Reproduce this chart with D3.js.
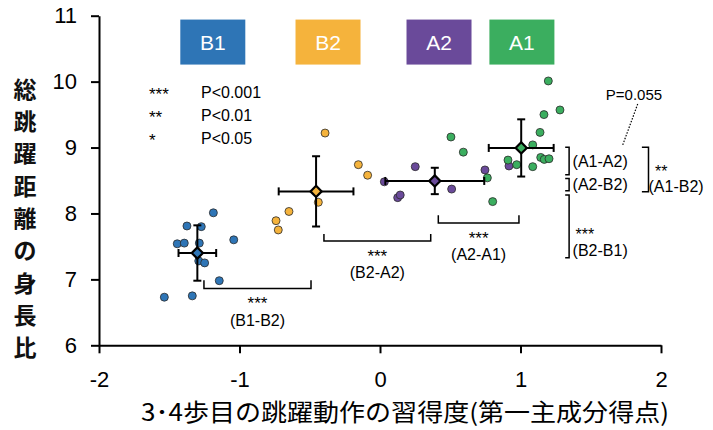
<!DOCTYPE html>
<html>
<head>
<meta charset="utf-8">
<script src="https://cdn.jsdelivr.net/npm/d3@7"></script>
<style>
  body { margin: 0; background: #fff; }
  text { font-family: "Liberation Sans", Arial, sans-serif; }
  .jp { font-family: "Noto Sans CJK JP", sans-serif; }
</style>
</head>
<body>
<div id="chart"></div>
<script>
// groups
let groups = ["B1", "B2", "A2", "A1"];
let colors = ["#2E75B6", "#F5B33C", "#6A4A9A", "#3BAE5F"];

// individual points (x = 習得度, y = 身長比)
let b1X = [-1.186, -1.374, -1.272, -1.443, -1.393, -1.286, -1.041, -1.290, -1.248, -1.144, -1.535, -1.336];
let b1Y = [8.01, 7.81, 7.80, 7.54, 7.55, 7.55, 7.60, 7.28, 7.25, 6.98, 6.73, 6.75];
let b2X = [-0.391, -0.154, -0.088, -0.439, -0.648, -0.740, -0.724];
let b2Y = [9.22, 8.74, 8.58, 8.17, 8.03, 7.89, 7.75];
let a2X = [0.251, 0.031, 0.126, 0.144, 0.510, 0.747, 0.918];
let a2Y = [8.71, 8.48, 8.24, 8.28, 8.37, 8.66, 8.72];
let a1X = [1.198, 1.281, 1.167, 1.139, 1.087, 0.505, 0.593, 0.911, 0.973, 1.087, 1.144, 1.169, 1.203, 0.764, 0.802];
let a1Y = [10.01, 9.57, 9.50, 9.23, 9.04, 9.16, 8.93, 8.81, 8.74, 8.71, 8.85, 8.82, 8.83, 8.54, 8.18];

// group means and SD
let meanX = [-1.300, -0.455, 0.390, 1.005];
let meanY = [7.40, 8.335, 8.493, 8.994];
let sdX = [0.134, 0.266, 0.352, 0.231];
let sdY = [0.42, 0.533, 0.20, 0.434];

// label box centres
let labelX = [-1.19, -0.37, 0.42, 1.01];
let labelY = 10.6;

let xTicks = [-2, -1, 0, 1, 2];
let yTicks = [6, 7, 8, 9, 10, 11];

// significance brackets under the groups
let hBrackets = [
  {x0: -1.253, x1: -0.491, y: 6.863, top: 6.985, stars: "***", label: "(B1-B2)"},
  {x0: -0.399, x1: 0.361, y: 7.583, top: 7.69, stars: "***", label: "(B2-A2)"},
  {x0: 0.415, x1: 0.989, y: 7.857, top: 7.971, stars: "***", label: "(A2-A1)"}
];
// brackets on the right (y ranges)
let vBrackets = [
  {x: 1.346, tip: 1.318, y0: 9.003, y1: 8.588, stars: "", label: "(A1-A2)"},
  {x: 1.346, tip: 1.318, y0: 8.531, y1: 8.344, stars: "", label: "(A2-B2)"},
  {x: 1.346, tip: 1.318, y0: 8.279, y1: 7.329, stars: "***", label: "(B2-B1)"},
  {x: 1.911, tip: 1.864, y0: 9.003, y1: 8.329, stars: "**", label: "(A1-B2)"}
];

let legendStars = ["***", "**", "*"];
let legendText = ["P<0.001", "P<0.01", "P<0.05"];

let dim = { width: 713, height: 430 };
let margin = { left: 99, right: 52, top: 15.7, bottom: 84.7 };

let svg = d3.select("#chart")
            .append("svg")
            .attr("width", dim.width)
            .attr("height", dim.height);

let scaleX = d3.scaleLinear()
               .domain([-2, 2])
               .range([margin.left, dim.width - margin.right]);

let scaleY = d3.scaleLinear()
               .domain([6, 11])
               .range([dim.height - margin.bottom, margin.top]);

// axes
let axisX = svg.append("g")
               .attr("transform", `translate(0, ${scaleY(6)})`)
               .call(d3.axisBottom(scaleX).tickValues(xTicks).tickSize(8).tickSizeOuter(0).tickPadding(18).tickFormat(d3.format("d")));
let axisY = svg.append("g")
               .attr("transform", `translate(${scaleX(-2)}, 0)`)
               .call(d3.axisLeft(scaleY).tickValues(yTicks).tickSize(8).tickSizeOuter(0).tickPadding(14).tickFormat(d3.format("d")));

[axisX, axisY].forEach(a => {
  a.selectAll("path, line").attr("stroke", "#000").attr("stroke-width", 2);
  a.selectAll("text")
   .attr("fill", "#000")
   .attr("font-size", "22px")
   .attr("font-family", "Liberation Sans, Arial, sans-serif")
   .text(d => d < 0 ? "-" + Math.abs(d) : d);
});

// axis titles
svg.append("text")
   .attr("class", "jp")
   .attr("x", 141)
   .attr("y", 421)
   .attr("font-size", "24px")
   .attr("textLength", 528)
   .attr("lengthAdjust", "spacingAndGlyphs")
   .attr("fill", "#000")
   .text("3･4歩目の跳躍動作の習得度(第一主成分得点)");

let yTitle = "総跳躍距離の身長比".split("");
svg.append("g")
   .selectAll("text")
   .data(yTitle)
   .join("text")
   .attr("class", "jp")
   .attr("x", 25)
   .attr("y", (d, i) => 89.5 + i * 32.3)
   .attr("dy", "0.36em")
   .attr("text-anchor", "middle")
   .attr("font-size", "23px")
   .attr("font-weight", "bold")
   .attr("fill", "#111")
   .text(d => d);

// group label boxes
let boxes = svg.append("g")
   .selectAll("g")
   .data(groups)
   .join("g")
   .attr("transform", (d, i) => `translate(${scaleX(labelX[i])}, ${scaleY(labelY)})`);
boxes.append("rect")
     .attr("x", -32.5).attr("y", -22.5)
     .attr("width", 65).attr("height", 45)
     .attr("fill", (d, i) => colors[i]);
boxes.append("text")
     .attr("text-anchor", "middle")
     .attr("dy", "0.36em")
     .attr("font-size", "21px")
     .attr("fill", "#fff")
     .text(d => d);

// p legend
let leg = svg.append("g");
legendStars.forEach((s, i) => {
  leg.append("text").attr("x", 149).attr("y", 100 + i * 22.8)
     .attr("font-size", "17px").attr("fill", "#000").text(s);
  leg.append("text").attr("x", 201).attr("y", 98.3 + i * 22.8)
     .attr("font-size", "16px").attr("fill", "#000").text(legendText[i]);
});

// points
let pointSets = [[b1X, b1Y], [b2X, b2Y], [a2X, a2Y], [a1X, a1Y]];
pointSets.forEach((p, gi) => {
  let pts = p[0].map((x, i) => ({x: x, y: p[1][i]}));
  svg.append("g")
     .selectAll("circle")
     .data(pts)
     .join("circle")
     .attr("cx", d => scaleX(d.x))
     .attr("cy", d => scaleY(d.y))
     .attr("r", 4)
     .attr("fill", colors[gi])
     .attr("stroke", "#2b2b2b")
     .attr("stroke-width", 0.8);
});

// mean +- SD
let cap = 4;
groups.forEach((g, i) => {
  let mg = svg.append("g").attr("stroke", "#000").attr("stroke-width", 2);
  let cx = scaleX(meanX[i]), cy = scaleY(meanY[i]);
  let xl = scaleX(meanX[i] - sdX[i]), xr = scaleX(meanX[i] + sdX[i]);
  let yt = scaleY(meanY[i] + sdY[i]), yb = scaleY(meanY[i] - sdY[i]);
  mg.append("line").attr("x1", xl).attr("x2", xr).attr("y1", cy).attr("y2", cy);
  mg.append("line").attr("x1", cx).attr("x2", cx).attr("y1", yt).attr("y2", yb);
  mg.append("line").attr("x1", xl).attr("x2", xl).attr("y1", cy - cap).attr("y2", cy + cap);
  mg.append("line").attr("x1", xr).attr("x2", xr).attr("y1", cy - cap).attr("y2", cy + cap);
  mg.append("line").attr("x1", cx - cap).attr("x2", cx + cap).attr("y1", yt).attr("y2", yt);
  mg.append("line").attr("x1", cx - cap).attr("x2", cx + cap).attr("y1", yb).attr("y2", yb);
  mg.append("path")
    .attr("d", d3.symbol().type(d3.symbolDiamond2).size(80)())
    .attr("transform", `translate(${cx}, ${cy})`)
    .attr("fill", colors[i])
    .attr("stroke-width", 2.2)
    .attr("stroke-linejoin", "miter");
});

// brackets under groups
hBrackets.forEach(b => {
  let x0 = scaleX(b.x0), x1 = scaleX(b.x1), y = scaleY(b.y), t = scaleY(b.top);
  svg.append("path")
     .attr("d", `M${x0},${t}V${y}H${x1}V${t}`)
     .attr("fill", "none").attr("stroke", "#000").attr("stroke-width", 1.5);
  svg.append("text").attr("x", (x0 + x1) / 2).attr("y", y + 21)
     .attr("text-anchor", "middle").attr("font-size", "17px").attr("fill", "#000").text(b.stars);
  svg.append("text").attr("x", (x0 + x1) / 2).attr("y", y + 37.5)
     .attr("text-anchor", "middle").attr("font-size", "16px").attr("fill", "#000").text(b.label);
});

// brackets on the right
vBrackets.forEach(b => {
  let x = scaleX(b.x), tip = scaleX(b.tip), y0 = scaleY(b.y0), y1 = scaleY(b.y1);
  svg.append("path")
     .attr("d", `M${tip},${y0}H${x}V${y1}H${tip}`)
     .attr("fill", "none").attr("stroke", "#000").attr("stroke-width", 1.5);
  let tx = x + 3.5;
  if (b.stars === "") {
    svg.append("text").attr("x", tx).attr("y", (y0 + y1) / 2).attr("dy", "0.36em")
       .attr("font-size", "16px").attr("fill", "#000").text(b.label);
  } else {
    let ly = b.stars === "**" ? 186.5 : 250;
    svg.append("text").attr("x", tx + 3).attr("y", ly - 10)
       .attr("font-size", "16px").attr("fill", "#000").text(b.stars);
    svg.append("text").attr("x", b.stars === "**" ? x : tx).attr("y", ly).attr("dy", "0.36em")
       .attr("font-size", "16px").attr("fill", "#000").text(b.label);
  }
});

// P=0.055 note
svg.append("text").attr("x", 634).attr("y", 95).attr("dy", "0.36em")
   .attr("text-anchor", "middle").attr("font-size", "15px").attr("fill", "#000").text("P=0.055");
svg.append("line")
   .attr("x1", 637.7).attr("y1", 104).attr("x2", 622.7).attr("y2", 145)
   .attr("stroke", "#000").attr("stroke-width", 1.2).attr("stroke-dasharray", "1.5,1.5");
</script>
</body>
</html>
